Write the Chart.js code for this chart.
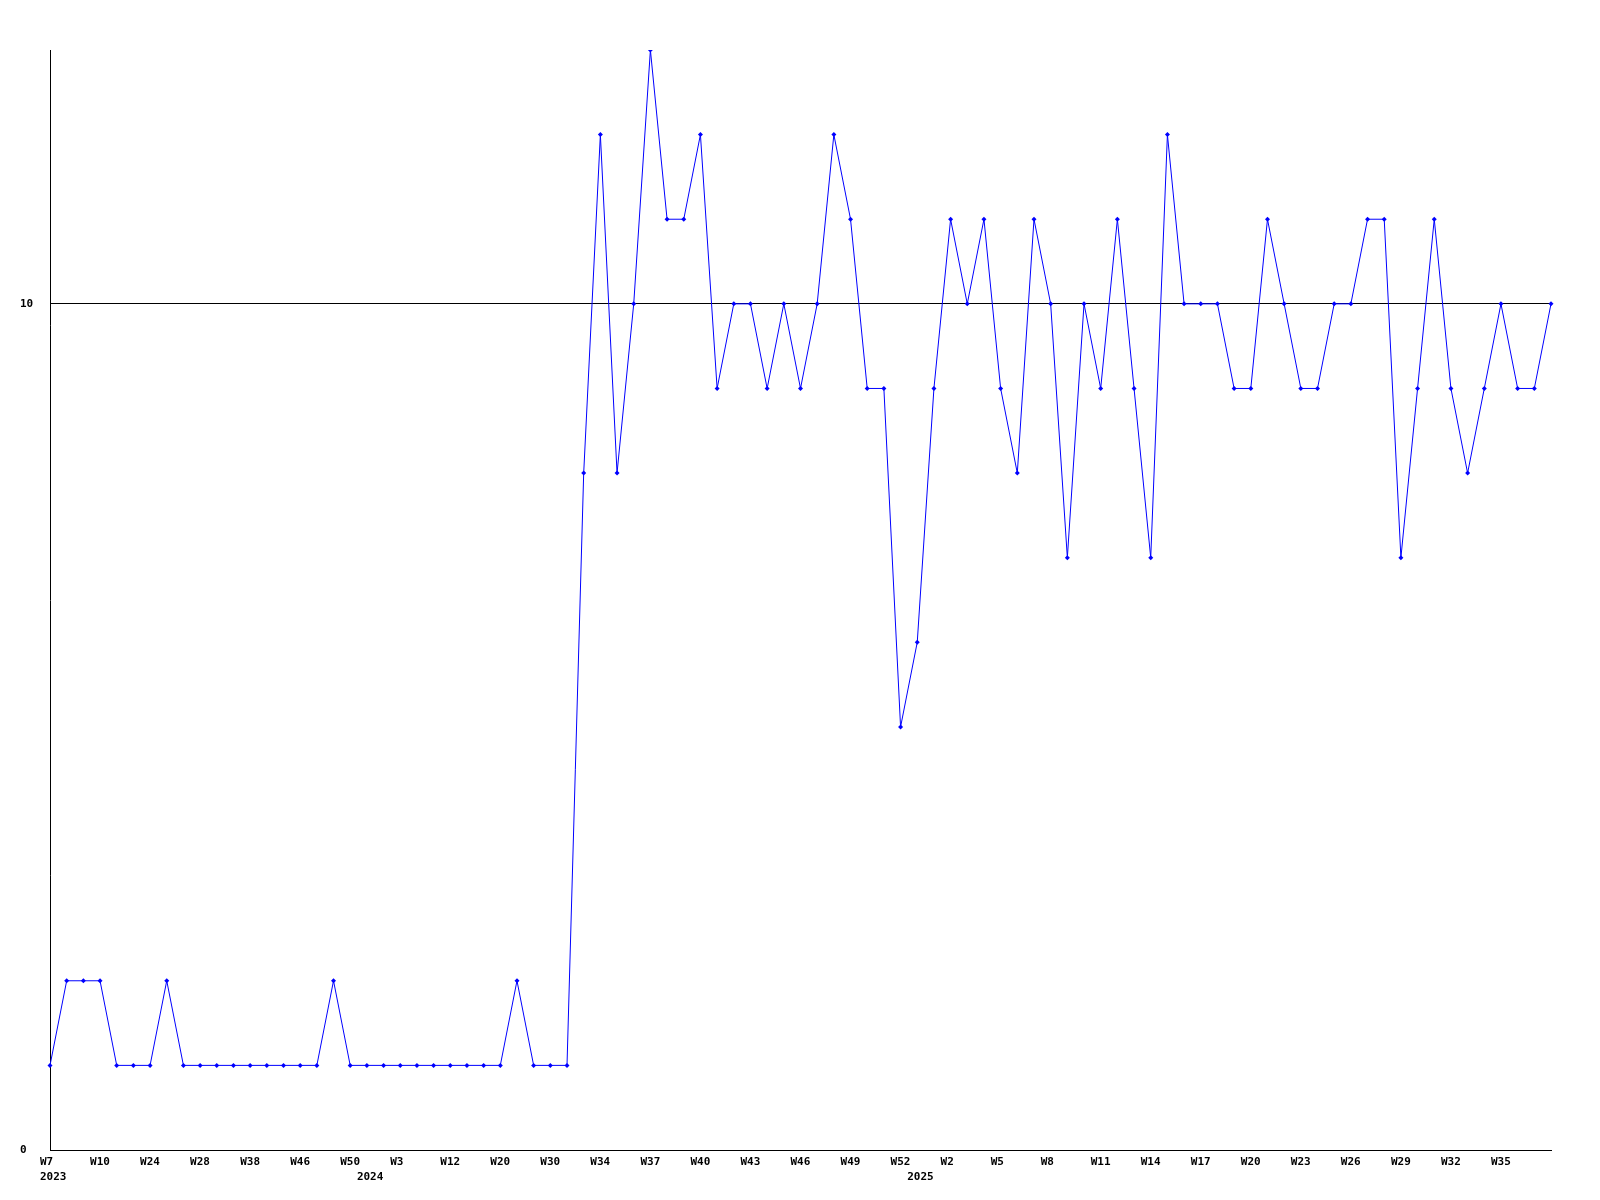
<!DOCTYPE html>
<html>
<head>
<meta charset="utf-8">
<script src="https://cdn.jsdelivr.net/npm/chart.js@4/dist/chart.umd.min.js"></script>
<style>
  body { margin: 0; background: #fff; }
  canvas { display: block; }
</style>
</head>
<body>
<canvas id="weekly" width="1600" height="1200"></canvas>
<script>
"use strict";

// week of each point
var weeks = ["W7", "W8", "W9", "W10", "W14", "W19", "W24", "W25", "W26", "W28",
	"W32", "W35", "W38", "W41", "W44", "W46", "W47", "W49", "W50",
	"W1", "W2", "W3", "W6", "W9", "W12", "W15", "W17", "W20", "W22", "W27",
	"W30", "W32", "W33", "W34", "W35", "W36", "W37", "W38", "W39", "W40",
	"W41", "W42", "W43", "W44", "W45", "W46", "W47", "W48", "W49", "W50",
	"W51", "W52",
	"W0", "W1", "W2", "W3", "W4", "W5", "W6", "W7", "W8", "W9", "W10",
	"W11", "W12", "W13", "W14", "W15", "W16", "W17", "W18", "W19", "W20",
	"W21", "W22", "W23", "W24", "W25", "W26", "W27", "W28", "W29", "W30",
	"W31", "W32", "W33", "W34", "W35", "W36", "W37", "W38"];

// year of each point
var years = [];
for (var i = 0; i < weeks.length; i++) {
	years.push(i < 19 ? "2023" : (i < 52 ? "2024" : "2025"));
}

var counts = [1, 2, 2, 2, 1, 1, 1, 2, 1, 1, 1, 1, 1, 1, 1, 1, 1, 2, 1, 1,
	1, 1, 1, 1, 1, 1, 1, 1, 2, 1, 1, 1,
	8, 12, 8, 10, 13, 11, 11, 12, 9, 10, 10, 9, 10, 9, 10, 12, 11, 9, 9, 5,
	6, 9, 11, 10, 11, 9, 8, 11, 10, 7, 10, 9, 11, 9, 7, 12, 10, 10, 10, 9,
	9, 11, 10, 9, 9, 10, 10, 11, 11, 7, 9, 11, 9, 8, 9, 10, 9, 9, 10];

var yTicks = [0, 10];

var font = { family: "'DejaVu Sans Mono', monospace", size: 11, weight: 'bold', lineHeight: 1.36 };

var ctx = document.getElementById("weekly");
var chart = new Chart(ctx, {
	type: 'line',
	data: {
		labels: weeks,
		datasets: [
			{
				label: "Count",
				data: counts,
				borderColor: "#0000ff",
				backgroundColor: "#0000ff",
				borderWidth: 1,
				pointStyle: 'rectRot',
				pointRadius: 2.5,
				pointBorderWidth: 0,
				tension: 0,
				fill: false
			}
		]
	},
	options: {
		responsive: false,
		animation: false,
		layout: { padding: { left: 20, top: 50, right: 49, bottom: 0 } },
		plugins: { legend: { display: false }, tooltip: { enabled: false } },
		scales: {
			x: {
				type: 'category',
				offset: false,
				grid: { display: false, drawTicks: false },
				border: { display: true, color: '#000', width: 1 },
				afterFit: function (scale) { scale.height = 50; },
				ticks: {
					autoSkip: false,
					maxRotation: 0,
					minRotation: 0,
					align: 'start',
					labelOffset: -10,
					padding: 5,
					color: '#000',
					font: font,
					callback: function (value, index) {
						// every third week, but not the last point
						var week = (index % 3 === 0 && index < weeks.length - 1) ? weeks[index] : '';
						var newYear = index === 0 || years[index] !== years[index - 1];
						if (newYear) return [week, years[index]];
						return week;
					}
				}
			},
			y: {
				min: 0,
				max: 13,
				afterBuildTicks: function (scale) {
					scale.ticks = yTicks.map(function (v) { return { value: v }; });
				},
				afterFit: function (scale) { scale.width = 30; },
				grid: { color: '#000', lineWidth: 1, drawTicks: false },
				border: { display: true, color: '#000', width: 1 },
				ticks: {
					crossAlign: 'far',
					padding: 0,
					color: '#000',
					font: font
				}
			}
		}
	}
});
</script>
</body>
</html>
